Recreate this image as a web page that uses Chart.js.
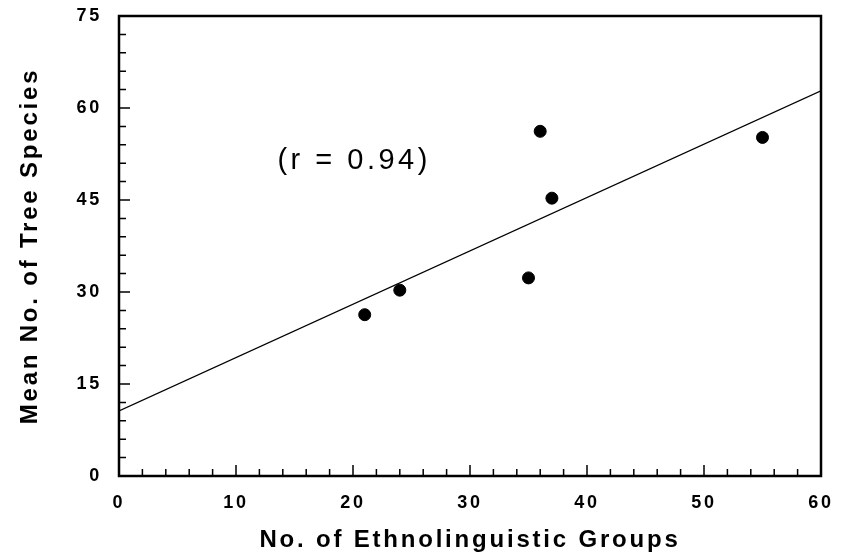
<!DOCTYPE html>
<html>
<head>
<meta charset="utf-8">
<script src="https://cdn.jsdelivr.net/npm/chart.js@4.4.1/dist/chart.umd.min.js"></script>
<style>
  html, body { margin:0; padding:0; background:#fff; }
  #wrap { width:850px; height:556px; }
</style>
</head>
<body>
<div id="wrap"><canvas id="chart"></canvas></div>
<script>
/* donnees */
const groupes  = [21, 24, 35, 36, 37, 55];
const especes  = [26.3, 30.3, 32.3, 56.2, 45.3, 55.2];
const droiteX  = [0, 60];
const droiteY  = [10.6, 62.8];
const libelleR = '(r = 0.94)';
const titreX   = 'No. of Ethnolinguistic Groups';
const titreY   = 'Mean No. of Tree Species';

const FONT = '"Liberation Sans", Arial, Helvetica, sans-serif';

/* texte un peu espace comme l'original */
const espacement = {
  id: 'espacement',
  beforeDraw(chart) { chart.ctx.letterSpacing = '2.8px'; }
};

/* cadre + graduations vers l'interieur */
const cadre = {
  id: 'cadre',
  afterDraw(chart) {
    const {ctx, chartArea: a, scales: {x, y}} = chart;
    ctx.save();
    ctx.strokeStyle = '#000';
    ctx.lineWidth = 1.5;
    ctx.beginPath();
    for (let v = 0; v <= 60; v += 2) {
      const px = x.getPixelForValue(v), len = v % 10 === 0 ? 11 : 7;
      ctx.moveTo(px, a.bottom); ctx.lineTo(px, a.bottom - len);
    }
    for (let v = 0; v <= 75; v += 3) {
      const py = y.getPixelForValue(v), len = v % 15 === 0 ? 11 : 7;
      ctx.moveTo(a.left, py); ctx.lineTo(a.left + len, py);
    }
    ctx.stroke();
    ctx.lineWidth = 2.5;
    ctx.strokeRect(a.left, a.top, a.right - a.left, a.bottom - a.top);

    /* libelle du coefficient */
    ctx.fillStyle = '#000';
    ctx.font = '29px ' + FONT;
    ctx.letterSpacing = '3.5px';
    ctx.textAlign = 'center';
    ctx.textBaseline = 'middle';
    ctx.fillText(libelleR, x.getPixelForValue(20.1), y.getPixelForValue(51.3));
    ctx.restore();
  }
};

new Chart(document.getElementById('chart'), {
  type: 'scatter',
  data: {
    datasets: [
      { data: groupes.map((g, i) => ({x: g, y: especes[i]})),
        backgroundColor: '#000', borderColor: '#000',
        pointRadius: 6, pointHoverRadius: 6 },
      { type: 'line', data: droiteX.map((g, i) => ({x: g, y: droiteY[i]})),
        borderColor: '#000', borderWidth: 1.4, pointRadius: 0, fill: false }
    ]
  },
  plugins: [espacement, cadre],
  options: {
    responsive: true, maintainAspectRatio: false, animation: false,
    layout: { padding: { top: 16, right: 29, left: 0, bottom: 0 } },
    plugins: { legend: { display: false }, tooltip: { enabled: false } },
    scales: {
      x: {
        type: 'linear', min: 0, max: 60,
        grid: { display: false, drawTicks: false }, border: { display: false },
        ticks: { stepSize: 10, padding: 16, color: '#000',
                 font: { family: FONT, size: 18, weight: 'bold' } },
        title: { display: true, text: titreX, color: '#000', padding: { bottom: 1, top: 0 },
                 font: { family: FONT, size: 24, weight: 'bold' } },
        afterFit: s => { s.height = 80; s.paddingLeft = 0; s.paddingRight = 0; }
      },
      y: {
        type: 'linear', min: 0, max: 75,
        grid: { display: false, drawTicks: false }, border: { display: false },
        ticks: { stepSize: 15, padding: 17, color: '#000',
                 font: { family: FONT, size: 18, weight: 'bold' } },
        title: { display: true, text: titreY, color: '#000', padding: { top: 16, bottom: 0 },
                 font: { family: FONT, size: 24, weight: 'bold' } },
        afterFit: s => { s.width = 119; s.paddingTop = 0; s.paddingBottom = 0; }
      }
    }
  }
});
</script>
</body>
</html>
